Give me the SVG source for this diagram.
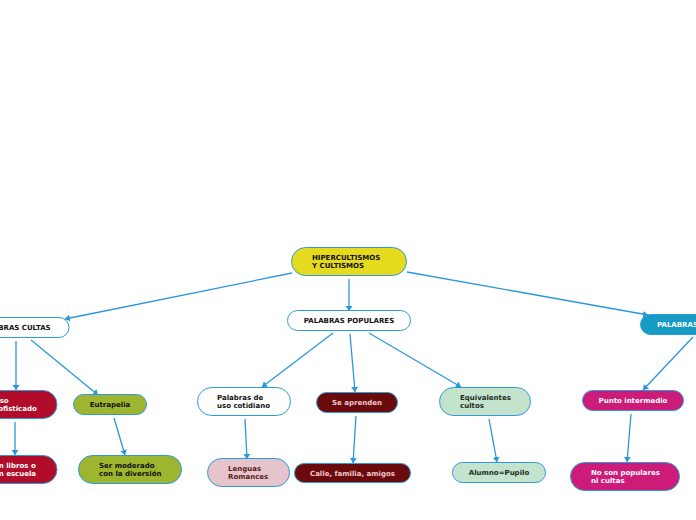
<svg xmlns="http://www.w3.org/2000/svg" width="696" height="520" viewBox="0 0 696 520">
<defs>
<marker id="ah" markerUnits="userSpaceOnUse" markerWidth="8" markerHeight="8" refX="5" refY="4" orient="auto">
<path d="M0,0.5 L5,4 L0,7.5 z" fill="#2a97dc"/>
</marker>
<style>
.n{stroke:#2d9bdb;stroke-width:1}
.t{font-family:"DejaVu Sans",Verdana,sans-serif;font-weight:bold;font-size:7px}
.c line{stroke:#2a97dc;stroke-width:1.3;marker-end:url(#ah)}
</style>
</defs>
<rect width="696" height="520" fill="#ffffff"/>
<g class="c" id="connectors">
<line x1="292" y1="273" x2="65" y2="319"/>
<line x1="349" y1="279" x2="349" y2="311"/>
<line x1="407" y1="272" x2="648" y2="315"/>
<line x1="16" y1="341" x2="16" y2="390"/>
<line x1="31" y1="340" x2="98" y2="395"/>
<line x1="15" y1="422" x2="15" y2="455"/>
<line x1="114" y1="418" x2="125" y2="455"/>
<line x1="333" y1="333" x2="262" y2="387"/>
<line x1="350" y1="334" x2="355" y2="392"/>
<line x1="369" y1="333" x2="461" y2="387"/>
<line x1="245" y1="419" x2="247" y2="459"/>
<line x1="356" y1="416" x2="353" y2="463"/>
<line x1="489" y1="419" x2="497" y2="462"/>
<line x1="693" y1="337" x2="643" y2="390"/>
<line x1="631" y1="414" x2="627" y2="462"/>
</g>
<g id="hiper">
<rect class="n" x="291.5" y="247.5" width="115" height="28" rx="14" fill="#e6da1f"/>
<text class="t" x="312" y="260" fill="#111">HIPERCULTISMOS</text>
<text class="t" x="312" y="268" fill="#111">Y CULTISMOS</text>
</g>
<g id="populares">
<rect class="n" x="287.5" y="310.5" width="123" height="20" rx="10" fill="#ffffff"/>
<text class="t" x="349" y="323" text-anchor="middle" fill="#111">PALABRAS POPULARES</text>
</g>
<g id="cultas">
<rect class="n" x="-40" y="317.5" width="109" height="20" rx="10" fill="#ffffff"/>
<text class="t" x="14.5" y="330" text-anchor="middle" fill="#111">PALABRAS CULTAS</text>
</g>
<g id="semicultas">
<rect class="n" x="640.5" y="314.5" width="130" height="20" rx="10" fill="#159bc4"/>
<text class="t" x="657" y="327" fill="#ffffff">PALABRAS SEMICULTAS</text>
</g>
<g id="uso">
<rect class="n" x="-40" y="390.5" width="97" height="28" rx="14" fill="#b20c2b"/>
<text class="t" x="-6" y="403" fill="#ffffff">Uso</text>
<text class="t" x="-6" y="411" fill="#ffffff">sofisticado</text>
</g>
<g id="libros">
<rect class="n" x="-40" y="455.5" width="97" height="28" rx="14" fill="#b20c2b"/>
<text class="t" x="-6" y="468" fill="#ffffff">En libros o</text>
<text class="t" x="-6" y="476" fill="#ffffff">en escuela</text>
</g>
<g id="eutrapelia">
<rect class="n" x="73.5" y="394.5" width="73" height="20" rx="10" fill="#9db52f"/>
<text class="t" x="110" y="407" text-anchor="middle" fill="#111">Eutrapelia</text>
</g>
<g id="moderado">
<rect class="n" x="78.5" y="455.5" width="103" height="28" rx="14" fill="#9db52f"/>
<text class="t" x="99" y="468" fill="#111">Ser moderado</text>
<text class="t" x="99" y="476" fill="#111">con la diversión</text>
</g>
<g id="cotidiano">
<rect class="n" x="197.5" y="387.5" width="93" height="28" rx="14" fill="#ffffff"/>
<text class="t" x="217" y="400" fill="#111">Palabras de</text>
<text class="t" x="217" y="408" fill="#111">uso cotidiano</text>
</g>
<g id="lenguas">
<rect class="n" x="207.5" y="458.5" width="82" height="28" rx="14" fill="#e5c4cb"/>
<text class="t" x="228" y="471" fill="#5a1a1a">Lenguas</text>
<text class="t" x="228" y="479" fill="#5a1a1a">Romances</text>
</g>
<g id="aprenden">
<rect class="n" x="316.5" y="392.5" width="81" height="20" rx="10" fill="#6b0a0c"/>
<text class="t" x="357" y="405" text-anchor="middle" fill="#f0c8cc">Se aprenden</text>
</g>
<g id="calle">
<rect class="n" x="294.5" y="463.5" width="116" height="19" rx="9.5" fill="#6b0a0c"/>
<text class="t" x="352.5" y="475.5" text-anchor="middle" fill="#f0c8cc">Calle, familia, amigos</text>
</g>
<g id="equivalentes">
<rect class="n" x="439.5" y="387.5" width="91" height="28" rx="14" fill="#c4e3cc"/>
<text class="t" x="460" y="400" fill="#1d2a1f">Equivalentes</text>
<text class="t" x="460" y="408" fill="#1d2a1f">cultos</text>
</g>
<g id="alumno">
<rect class="n" x="452.5" y="462.5" width="93" height="20" rx="10" fill="#c4e3cc"/>
<text class="t" x="499" y="475" text-anchor="middle" fill="#1d2a1f">Alumno=Pupilo</text>
</g>
<g id="punto">
<rect class="n" x="582.5" y="390.5" width="101" height="20" rx="10" fill="#cd1b7a"/>
<text class="t" x="633" y="403" text-anchor="middle" fill="#ffffff">Punto intermedio</text>
</g>
<g id="noson">
<rect class="n" x="570.5" y="462.5" width="109" height="28" rx="14" fill="#cd1b7a"/>
<text class="t" x="591" y="475" fill="#ffffff">No son populares</text>
<text class="t" x="591" y="483" fill="#ffffff">ni cultas</text>
</g>
</svg>
